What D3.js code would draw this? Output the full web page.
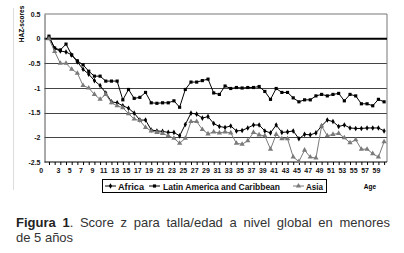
<!DOCTYPE html>
<html>
<head>
<meta charset="utf-8">
<script src="https://cdn.jsdelivr.net/npm/d3@7"></script>
<style>
  body { margin: 0; background: #fff; }
  #wrap { position: relative; width: 404px; height: 253px; overflow: hidden; }
  .cap {
    position: absolute; left: 16px; width: 374px;
    font-family: Arial, "Liberation Sans", sans-serif; font-size: 13px;
    line-height: 15px; color: #333; white-space: nowrap;
  }
  #cap1 { top: 215px; text-align: justify; text-align-last: justify; }
  #cap2 { top: 230px; }
</style>
</head>
<body>
<div id="wrap">
  <svg id="chart" width="404" height="253"></svg>
  <div class="cap" id="cap1"><b style="color:#222">Figura 1</b>. Score z para talla/edad a nivel global en menores</div>
  <div class="cap" id="cap2">de 5 años</div>
</div>
<script>
// ages 1..60 months
const ages = d3.range(1, 61);

const africa = [0.03, -0.20, -0.25, -0.27, -0.33, -0.47, -0.62, -0.72, -0.85, -0.95,
  -1.10, -1.28, -1.30, -1.36, -1.41, -1.51, -1.65, -1.65, -1.85, -1.87,
  -1.88, -1.90, -1.90, -1.97, -1.74, -1.51, -1.53, -1.61, -1.58, -1.72,
  -1.78, -1.80, -1.77, -1.87, -1.86, -1.81, -1.75, -1.75, -1.87, -1.91,
  -1.75, -1.90, -1.89, -1.87, -2.03, -1.94, -1.95, -1.91, -1.77, -1.65,
  -1.68, -1.78, -1.75, -1.81, -1.82, -1.82, -1.81, -1.81, -1.81, -1.87];

const latam = [0.05, -0.19, -0.23, -0.11, -0.33, -0.45, -0.53, -0.66, -0.76, -0.76,
  -0.86, -0.86, -0.86, -1.24, -1.03, -1.21, -1.19, -1.09, -1.30, -1.31,
  -1.30, -1.30, -1.26, -1.39, -1.03, -0.88, -0.88, -0.85, -0.82, -1.10,
  -1.13, -0.96, -1.01, -0.99, -1.00, -0.99, -0.99, -0.97, -1.07, -1.23,
  -1.01, -1.09, -1.09, -1.20, -1.28, -1.24, -1.24, -1.16, -1.13, -1.16,
  -1.13, -1.11, -1.26, -1.13, -1.16, -1.32, -1.32, -1.36, -1.23, -1.28];

const asia = [0.00, -0.26, -0.50, -0.50, -0.62, -0.70, -0.95, -1.00, -1.13, -1.23,
  -1.13, -1.30, -1.36, -1.40, -1.52, -1.63, -1.66, -1.80, -1.87, -1.90,
  -1.92, -1.97, -2.02, -2.12, -2.02, -1.68, -1.68, -1.84, -1.93, -1.89,
  -1.91, -1.89, -1.91, -2.12, -2.14, -2.07, -1.90, -1.95, -1.97, -2.24,
  -1.94, -2.03, -2.03, -2.40, -2.49, -2.26, -2.40, -2.42, -1.77, -1.97,
  -1.94, -1.92, -2.01, -2.11, -2.05, -2.24, -2.24, -2.33, -2.40, -2.09];

const xLabels = [0, 3, 5, 7, 9, 11, 13, 15, 17, 19, 21, 23, 25, 27, 29, 31, 33, 35, 37, 39,
  41, 43, 45, 47, 49, 51, 53, 55, 57, 59];
const yTicks = [0.5, 0, -0.5, -1, -1.5, -2, -2.5];

const seriesNames = ["Africa", "Latin America and Caribbean", "Asia"];

const font = "Arial, 'Liberation Sans', sans-serif";
const svg = d3.select("#chart");

const x = d3.scaleLinear().domain([0, 60]).range([43.3, 384.1]);
const y = d3.scaleLinear().domain([-2.5, 0.5]).range([162, 14]);
const plotLeft = 44.5, plotRight = 387;

// faint outer chart border
svg.append("line")
  .attr("x1", 13.5).attr("x2", 13.5).attr("y1", 8).attr("y2", 190)
  .attr("stroke", "#ddd");

// gridlines
svg.append("g").selectAll("line")
  .data([-0.5, -1, -1.5, -2])
  .join("line")
  .attr("x1", plotLeft).attr("x2", plotRight)
  .attr("y1", d => Math.round(y(d)) + 0.5).attr("y2", d => Math.round(y(d)) + 0.5)
  .attr("stroke", "#444").attr("stroke-width", 1);

// frame top and right
svg.append("path")
  .attr("d", `M${plotLeft},${y(0.5)}H${plotRight}V${y(-2.5)}`)
  .attr("fill", "none").attr("stroke", "#777");

// zero line
svg.append("line")
  .attr("x1", plotLeft).attr("x2", plotRight)
  .attr("y1", y(0)).attr("y2", y(0))
  .attr("stroke", "#000").attr("stroke-width", 2);

// y axis
const yAxis = svg.append("g")
  .attr("transform", `translate(${plotLeft},0)`)
  .call(d3.axisLeft(y).tickValues(yTicks).tickSize(0).tickPadding(4)
    .tickFormat(d => String(d)));
yAxis.select(".domain").attr("stroke", "#555");
yAxis.selectAll("text")
  .attr("font-family", font).attr("font-size", 7).attr("font-weight", "bold").attr("fill", "#111");

// x axis
const xAxis = svg.append("g")
  .attr("transform", `translate(0,${y(-2.5)})`)
  .call(d3.axisBottom(x).tickValues(ages).tickSize(3).tickFormat(""));
xAxis.select(".domain").attr("d", `M${plotLeft},0H${plotRight}`).attr("stroke", "#000");
xAxis.selectAll(".tick line").attr("stroke", "#000");

svg.append("g").selectAll("text")
  .data(xLabels)
  .join("text")
  .attr("x", d => x(d) - 2)
  .attr("y", 172.5)
  .attr("text-anchor", "middle")
  .attr("font-family", font).attr("font-size", 7).attr("font-weight", "bold").attr("fill", "#111")
  .text(d => d);

// axis titles
svg.append("text")
  .attr("transform", "translate(24,24) rotate(-90)")
  .attr("text-anchor", "middle")
  .attr("font-family", font).attr("font-size", 6.5).attr("font-weight", "bold")
  .text("HAZ-scores");

svg.append("text")
  .attr("x", 370).attr("y", 188.5)
  .attr("text-anchor", "middle")
  .attr("font-family", font).attr("font-size", 6.5).attr("font-weight", "bold")
  .text("Age");

// series
const line = d3.line().x((d, i) => x(ages[i])).y(d => y(d));

const symbols = [
  d3.symbol().type(d3.symbolDiamond).size(9),
  d3.symbol().type(d3.symbolSquare).size(10),
  d3.symbol().type(d3.symbolTriangle).size(12)
];
const colors = ["#000", "#000", "#7a7a7a"];

[africa, latam, asia].forEach((vals, k) => {
  const g = svg.append("g");
  g.append("path")
    .datum(vals)
    .attr("d", line)
    .attr("fill", "none")
    .attr("stroke", colors[k])
    .attr("stroke-width", 1);
  g.selectAll("path.pt")
    .data(vals)
    .join("path")
    .attr("class", "pt")
    .attr("transform", (d, i) => `translate(${x(ages[i])},${y(d)})`)
    .attr("d", symbols[k])
    .attr("fill", colors[k]);
});

// legend
const legend = svg.append("g");
legend.append("rect")
  .attr("x", 102.5).attr("y", 179.5).attr("width", 224).attr("height", 13)
  .attr("fill", "#fff").attr("stroke", "#000");

const legendX = [105, 149, 293];
const legendTextX = [118, 163, 306];
const legendTextW = [26, 117, 17];
seriesNames.forEach((name, k) => {
  const lx = legendX[k];
  legend.append("line")
    .attr("x1", lx).attr("x2", lx + 11).attr("y1", 186).attr("y2", 186)
    .attr("stroke", colors[k]);
  legend.append("path")
    .attr("transform", `translate(${lx + 5.5},186)`)
    .attr("d", symbols[k])
    .attr("fill", colors[k]);
  legend.append("text")
    .attr("x", legendTextX[k]).attr("y", 189.5)
    .attr("textLength", legendTextW[k]).attr("lengthAdjust", "spacingAndGlyphs")
    .attr("font-family", font).attr("font-size", 9).attr("font-weight", "bold").attr("fill", "#111")
    .text(name);
});
</script>
</body>
</html>
